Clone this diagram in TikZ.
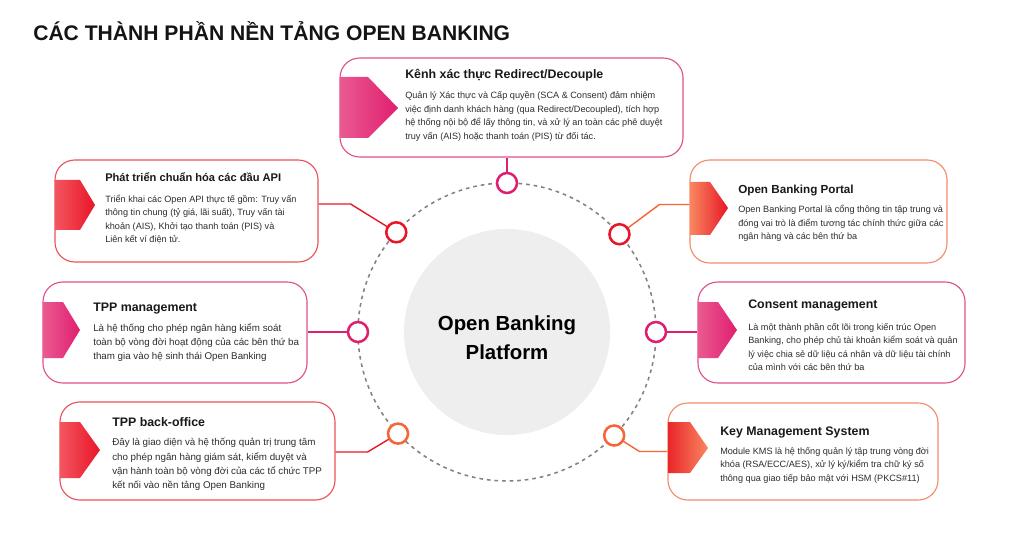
\documentclass[tikz,border=0pt]{standalone}
\usepackage{fontspec}
\setmainfont{Liberation Sans}
\usetikzlibrary{positioning,calc,fit}
\definecolor{obmag}{RGB}{224,30,112}
\definecolor{obmaglt}{RGB}{234,90,145}
\definecolor{obmagline}{RGB}{224,80,140}
\definecolor{obred}{RGB}{232,22,40}
\definecolor{obredlt}{RGB}{243,85,95}
\definecolor{obredline}{RGB}{236,80,92}
\definecolor{oborange}{RGB}{246,100,55}
\definecolor{oborangelt}{RGB}{248,135,95}
\definecolor{oborangeline}{RGB}{242,140,108}
\definecolor{obgray}{RGB}{238,238,238}
\definecolor{obdash}{RGB}{130,130,130}
\definecolor{obtext}{RGB}{45,45,45}

\begin{document}
\begin{tikzpicture}[x=0.025cm,y=-0.025cm,
    card/.style={draw, fill=white, rounded corners=14pt, line width=0.8pt, inner sep=0pt},
    cardtitle/.style={anchor=west, inner sep=0pt, text height=7pt, text depth=2pt,
      font=\bfseries\fontsize{8.8}{11}\selectfont, text=black!90},
    cardbody/.style={anchor=north west, inner sep=0pt, align=left,
      font=\fontsize{6.5}{9.6}\selectfont, text=obtext},
    bigbody/.style={cardbody, font=\fontsize{6.95}{10.2}\selectfont},
    dot/.style={circle, draw, fill=white, line width=1.8pt, minimum size=0.5cm, inner sep=0pt},
    link/.style={line width=1pt},
    ring/.style={draw=obdash, line width=1.1pt, dash pattern=on 2.6pt off 2.8pt}]
  % Background and bounding box
  \fill[white] (0,0) rectangle (1024,537);
  \useasboundingbox (0,0) rectangle (1024,537);
  % Heading
  \node[anchor=west, inner sep=0pt, font=\bfseries\fontsize{15}{17}\selectfont, text=black!92]
    (heading) at (33,31) {CÁC THÀNH PHẦN NỀN TẢNG OPEN BANKING};
  % Core and dashed ring
  \node[circle, fill=obgray, minimum size=5.15cm, inner sep=0pt] (core) at (507,332) {};
  \node[align=center, font=\bfseries\fontsize{14.5}{20.5}\selectfont] (core-t) at (507,338) {Open Banking\\Platform};
  \draw[ring] (core.center) circle (149);
  % Cards
  \path (340,58) coordinate (kenh-a) (683,157) coordinate (kenh-b);
  \node[card, draw=obmagline, fit=(kenh-a)(kenh-b)] (kenh) {};
  \path (55,160) coordinate (api-a) (318,262) coordinate (api-b);
  \node[card, draw=obredline, fit=(api-a)(api-b)] (api) {};
  \path (690,160) coordinate (portal-a) (947,263) coordinate (portal-b);
  \node[card, draw=oborangeline, fit=(portal-a)(portal-b)] (portal) {};
  \path (43,282) coordinate (tppm-a) (307,383) coordinate (tppm-b);
  \node[card, draw=obmagline, fit=(tppm-a)(tppm-b)] (tppm) {};
  \path (698,282) coordinate (consent-a) (965,383) coordinate (consent-b);
  \node[card, draw=obmagline, fit=(consent-a)(consent-b)] (consent) {};
  \path (60,402) coordinate (backoff-a) (335,500) coordinate (backoff-b);
  \node[card, draw=obredline, fit=(backoff-a)(backoff-b)] (backoff) {};
  \path (668,403) coordinate (kms-a) (938,500) coordinate (kms-b);
  \node[card, draw=oborangeline, fit=(kms-a)(kms-b)] (kms) {};
  % Arrow tabs
  \shade[left color=obmaglt, right color=obmag] (340,77) -- (368,77) -- (398,108) -- (368,138) -- (340,138) -- cycle;
  \shade[left color=obredlt, right color=obred] (55,180) -- (80,180) -- (95,205) -- (80,230) -- (55,230) -- cycle;
  \shade[left color=oborangelt, right color=obred] (690,182) -- (710,182) -- (728,208) -- (710,235) -- (690,235) -- cycle;
  \shade[left color=obmaglt, right color=obmag] (43,302) -- (63,302) -- (80,330) -- (63,358) -- (43,358) -- cycle;
  \shade[left color=obmaglt, right color=obmag] (698,302) -- (718,302) -- (737,330) -- (718,358) -- (698,358) -- cycle;
  \shade[left color=obredlt, right color=obred] (60,422) -- (80,422) -- (100,450) -- (80,478) -- (60,478) -- cycle;
  \shade[left color=obred!80!oborange, right color=oborangelt] (668,422) -- (690,422) -- (708,448) -- (690,473) -- (668,473) -- cycle;
  % Card texts
  \node[cardtitle] (kenh-t) at (405,75) {Kênh xác thực Redirect/Decouple};
  \node[cardbody] at ([yshift=-7pt]kenh-t.south west)
    {Quản lý Xác thực và Cấp quyền (SCA \& Consent) đảm nhiệm\\
     việc định danh khách hàng (qua Redirect/Decoupled), tích hợp\\
     hệ thống nội bộ để lấy thông tin, và xử lý an toàn các phê duyệt\\
     truy vấn (AIS) hoặc thanh toán (PIS) từ đối tác.};
  \node[cardtitle, font=\bfseries\fontsize{7.9}{10}\selectfont] (api-t) at (105,178) {Phát triển chuẩn hóa các đầu API};
  \node[cardbody] at ([yshift=-7pt]api-t.south west)
    {Triển khai các Open API thực tế gồm: Truy vấn\\
     thông tin chung (tỷ giá, lãi suất), Truy vấn tài\\
     khoản (AIS), Khởi tạo thanh toán (PIS) và\\
     Liên kết ví điện tử.};
  \node[cardtitle, font=\bfseries\fontsize{8.3}{10}\selectfont] (portal-t) at (738,190) {Open Banking Portal};
  \node[cardbody] at ([yshift=-6pt]portal-t.south west)
    {Open Banking Portal là cổng thông tin tập trung và\\
     đóng vai trò là điểm tương tác chính thức giữa các\\
     ngân hàng và các bên thứ ba};
  \node[cardtitle] (tppm-t) at (93,308) {TPP management};
  \node[bigbody] at ([yshift=-6pt]tppm-t.south west)
    {Là hệ thống cho phép ngân hàng kiểm soát\\
     toàn bộ vòng đời hoạt động của các bên thứ ba\\
     tham gia vào hệ sinh thái Open Banking};
  \node[cardtitle] (consent-t) at (748,305) {Consent management};
  \node[cardbody] at ([yshift=-8pt]consent-t.south west)
    {Là một thành phần cốt lõi trong kiến trúc Open\\
     Banking, cho phép chủ tài khoản kiểm soát và quản\\
     lý việc chia sẻ dữ liệu cá nhân và dữ liệu tài chính\\
     của mình với các bên thứ ba};
  \node[cardtitle] (backoff-t) at (112,423) {TPP back-office};
  \node[bigbody] at ([yshift=-6pt]backoff-t.south west)
    {Đây là giao diện và hệ thống quản trị trung tâm\\
     cho phép ngân hàng giám sát, kiểm duyệt và\\
     vận hành toàn bộ vòng đời của các tổ chức TPP\\
     kết nối vào nền tảng Open Banking};
  \node[cardtitle] (kms-t) at (720,432) {Key Management System};
  \node[cardbody] at ([yshift=-6pt]kms-t.south west)
    {Module KMS là hệ thống quản lý tập trung vòng đời\\
     khóa (RSA/ECC/AES), xử lý ký/kiểm tra chữ ký số\\
     thông qua giao tiếp bảo mật với HSM (PKCS\#11)};
  % Dots on the ring
  \coordinate (d1) at ($(core.center)+(-90:149)$);
  \coordinate (d2) at ($(core.center)+(-138:149)$);
  \coordinate (d3) at ($(core.center)+(-41:149)$);
  \coordinate (d4) at ($(core.center)+(180:149)$);
  \coordinate (d5) at ($(core.center)+(0:149)$);
  \coordinate (d6) at ($(core.center)+(137:149)$);
  \coordinate (d7) at ($(core.center)+(44:149)$);
  % Connectors
  \draw[link, obmag] (d1) -- (d1 |- kenh.south);
  \draw[link, obred] (d2) -- ($(api.east)+(32,-7)$) -- ($(api.east)+(0,-7)$);
  \draw[link, oborange] (d3) -- ($(portal.west)+(-30,-7)$) -- ($(portal.west)+(0,-7)$);
  \draw[link, obmag] (d4) -- (d4 -| tppm.east);
  \draw[link, obmag] (d5) -- (d5 -| consent.west);
  \draw[link, obred] (d6) -- ($(backoff.east)+(32,1)$) -- ($(backoff.east)+(0,1)$);
  \draw[link, oborange] (d7) -- ($(kms.west)+(-28,0)$) -- (kms.west);
  \node[dot, draw=obmag] (dot1) at (d1) {};
  \node[dot, draw=obred] (dot2) at (d2) {};
  \node[dot, draw=obred] (dot3) at (d3) {};
  \node[dot, draw=obmag] (dot4) at (d4) {};
  \node[dot, draw=obmag] (dot5) at (d5) {};
  \node[dot, draw=oborange] (dot6) at (d6) {};
  \node[dot, draw=oborange] (dot7) at (d7) {};
\end{tikzpicture}
\end{document}
